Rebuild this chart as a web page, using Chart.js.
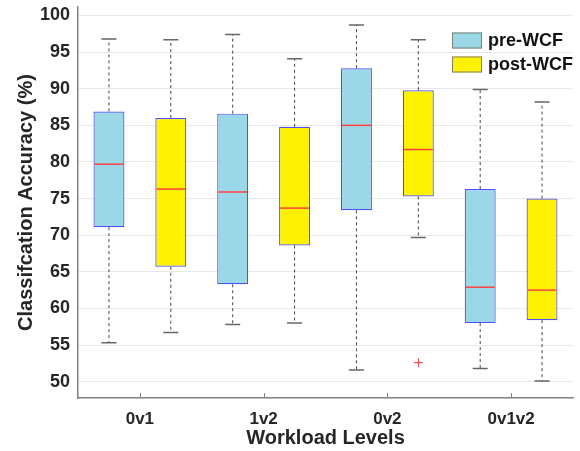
<!DOCTYPE html>
<html>
<head>
<meta charset="utf-8">
<script src="https://cdn.jsdelivr.net/npm/chart.js@4.4.1/dist/chart.umd.min.js"></script>
<style>
  html, body { margin: 0; padding: 0; background: #ffffff; }
  #wrap { width: 580px; height: 451px; }
</style>
</head>
<body>
<div id="wrap"><canvas id="boxChart" width="580" height="451"></canvas></div>
<script>
// Box plot values
const categories = ['0v1', '1v2', '0v2', '0v1v2'];

const preMin = [55.3, 57.8, 51.6, 51.8];
const preQ1 = [71.1, 63.3, 73.4, 58.0];
const preMed = [79.7, 75.9, 85.0, 62.9];
const preQ3 = [86.9, 86.6, 92.8, 76.3];
const preMax = [96.8, 97.4, 98.7, 89.9];
const preOutliers = [[], [], [], []];

const postMin = [56.7, 58.0, 69.7, 50.1];
const postQ1 = [65.7, 68.6, 75.3, 58.4];
const postMed = [76.3, 73.7, 81.7, 62.5];
const postQ3 = [86.0, 84.8, 89.8, 75.0];
const postMax = [96.7, 94.1, 96.7, 88.2];
const postOutliers = [[], [], [52.6], []];

const yTicks = [50, 55, 60, 65, 70, 75, 80, 85, 90, 95, 100];

const TEXT = '#262626';
const FONT = 'Liberation Sans, Arial, Helvetica, sans-serif';

// whiskers, caps, medians and outliers
const boxExtras = {
    id: 'boxExtras',
    afterDatasetsDraw(chart) {
        const ctx = chart.ctx;
        const y = chart.scales.y;
        chart.data.datasets.forEach((ds, d) => {
            const meta = chart.getDatasetMeta(d);
            meta.data.forEach((bar, i) => {
                const cx = bar.x;
                const half = bar.width / 2;
                const yQ1 = y.getPixelForValue(ds.data[i][0]);
                const yQ3 = y.getPixelForValue(ds.data[i][1]);
                const yMin = y.getPixelForValue(ds.mins[i]);
                const yMax = y.getPixelForValue(ds.maxs[i]);
                const yMed = y.getPixelForValue(ds.meds[i]);

                ctx.save();
                // dashed whiskers
                ctx.strokeStyle = '#444444';
                ctx.lineWidth = 1;
                ctx.setLineDash([3, 3]);
                ctx.beginPath();
                ctx.moveTo(cx, yQ3);
                ctx.lineTo(cx, yMax);
                ctx.moveTo(cx, yQ1);
                ctx.lineTo(cx, yMin);
                ctx.stroke();
                ctx.setLineDash([]);

                // caps
                ctx.strokeStyle = '#666666';
                ctx.lineWidth = 1.5;
                ctx.beginPath();
                ctx.moveTo(cx - 7.5, yMax);
                ctx.lineTo(cx + 7.5, yMax);
                ctx.moveTo(cx - 7.5, yMin);
                ctx.lineTo(cx + 7.5, yMin);
                ctx.stroke();

                // median
                ctx.strokeStyle = '#ff4040';
                ctx.lineWidth = 1.5;
                ctx.beginPath();
                ctx.moveTo(cx - half + 1, yMed);
                ctx.lineTo(cx + half - 1, yMed);
                ctx.stroke();

                // outliers as red plus signs
                ctx.strokeStyle = '#ff3333';
                ctx.lineWidth = 1;
                ds.outliers[i].forEach(v => {
                    const oy = y.getPixelForValue(v);
                    ctx.beginPath();
                    ctx.moveTo(cx - 4.5, oy);
                    ctx.lineTo(cx + 4.5, oy);
                    ctx.moveTo(cx, oy - 4.5);
                    ctx.lineTo(cx, oy + 4.5);
                    ctx.stroke();
                });
                ctx.restore();
            });
        });

        // inward x tick marks
        const x = chart.scales.x;
        const bottom = chart.chartArea.bottom;
        ctx.save();
        ctx.strokeStyle = '#808080';
        ctx.lineWidth = 1;
        categories.forEach((c, i) => {
            const px = Math.round(x.getPixelForValue(i)) + 0.5;
            ctx.beginPath();
            ctx.moveTo(px, bottom);
            ctx.lineTo(px, bottom - 5);
            ctx.stroke();
        });
        ctx.restore();
    },
    afterDraw(chart) {
        // legend inside the plot, top right
        const ctx = chart.ctx;
        const items = chart.data.datasets;
        ctx.save();
        ctx.font = 'bold 18px ' + FONT;
        ctx.textBaseline = 'middle';
        items.forEach((ds, k) => {
            const top = 32.5 + k * 24;
            ctx.fillStyle = ds.backgroundColor;
            ctx.fillRect(452, top, 30, 16);
            ctx.strokeStyle = '#808070';
            ctx.lineWidth = 1;
            ctx.strokeRect(452.5, top + 0.5, 29, 15);
            ctx.fillStyle = '#111111';
            ctx.fillText(ds.label, 488, top + 8.5);
        });
        ctx.restore();
    }
};

new Chart(document.getElementById('boxChart'), {
    type: 'bar',
    data: {
        labels: categories,
        datasets: [{
            label: 'pre-WCF',
            data: preQ1.map((q, i) => [q, preQ3[i]]),
            mins: preMin,
            meds: preMed,
            maxs: preMax,
            outliers: preOutliers,
            backgroundColor: '#9ad8e8',
            borderColor: '#5050f0',
            borderWidth: 1.2,
            borderSkipped: false
        }, {
            label: 'post-WCF',
            data: postQ1.map((q, i) => [q, postQ3[i]]),
            mins: postMin,
            meds: postMed,
            maxs: postMax,
            outliers: postOutliers,
            backgroundColor: '#fff200',
            borderColor: '#5050f0',
            borderWidth: 1.2,
            borderSkipped: false
        }]
    },
    options: {
        responsive: false,
        animation: false,
        categoryPercentage: 1.0,
        barPercentage: 0.5,
        layout: { padding: { top: 7, right: 7, left: 0, bottom: 0 } },
        plugins: {
            legend: { display: false },
            tooltip: { enabled: false }
        },
        scales: {
            x: {
                grid: { display: false },
                border: { color: '#808080', width: 1.5 },
                ticks: { color: TEXT, font: { family: FONT, size: 17, weight: 'bold' }, padding: 3 },
                title: {
                    display: true,
                    text: 'Workload Levels',
                    color: TEXT,
                    font: { family: FONT, size: 20, weight: 'bold' },
                    padding: { top: 0, bottom: 1 }
                },
                afterFit(scale) {
                    scale.height = 53;
                    scale.paddingLeft = 0;
                    scale.paddingRight = 0;
                }
            },
            y: {
                min: 47.77,
                max: 101.16,
                afterBuildTicks(scale) {
                    scale.ticks = yTicks.map(v => ({ value: v }));
                },
                grid: { color: '#e8e8e8', lineWidth: 1, drawTicks: false },
                border: { color: '#808080', width: 1.5 },
                ticks: { color: TEXT, font: { family: FONT, size: 18, weight: 'bold' }, padding: 8 },
                title: {
                    display: true,
                    text: 'Classifcation Accuracy (%)',
                    color: TEXT,
                    font: { family: FONT, size: 20, weight: 'bold' },
                    padding: { top: 14, bottom: 0 }
                },
                afterFit(scale) {
                    scale.width = 78;
                    scale.paddingTop = 0;
                    scale.paddingBottom = 0;
                }
            }
        }
    },
    plugins: [boxExtras]
});
</script>
</body>
</html>
